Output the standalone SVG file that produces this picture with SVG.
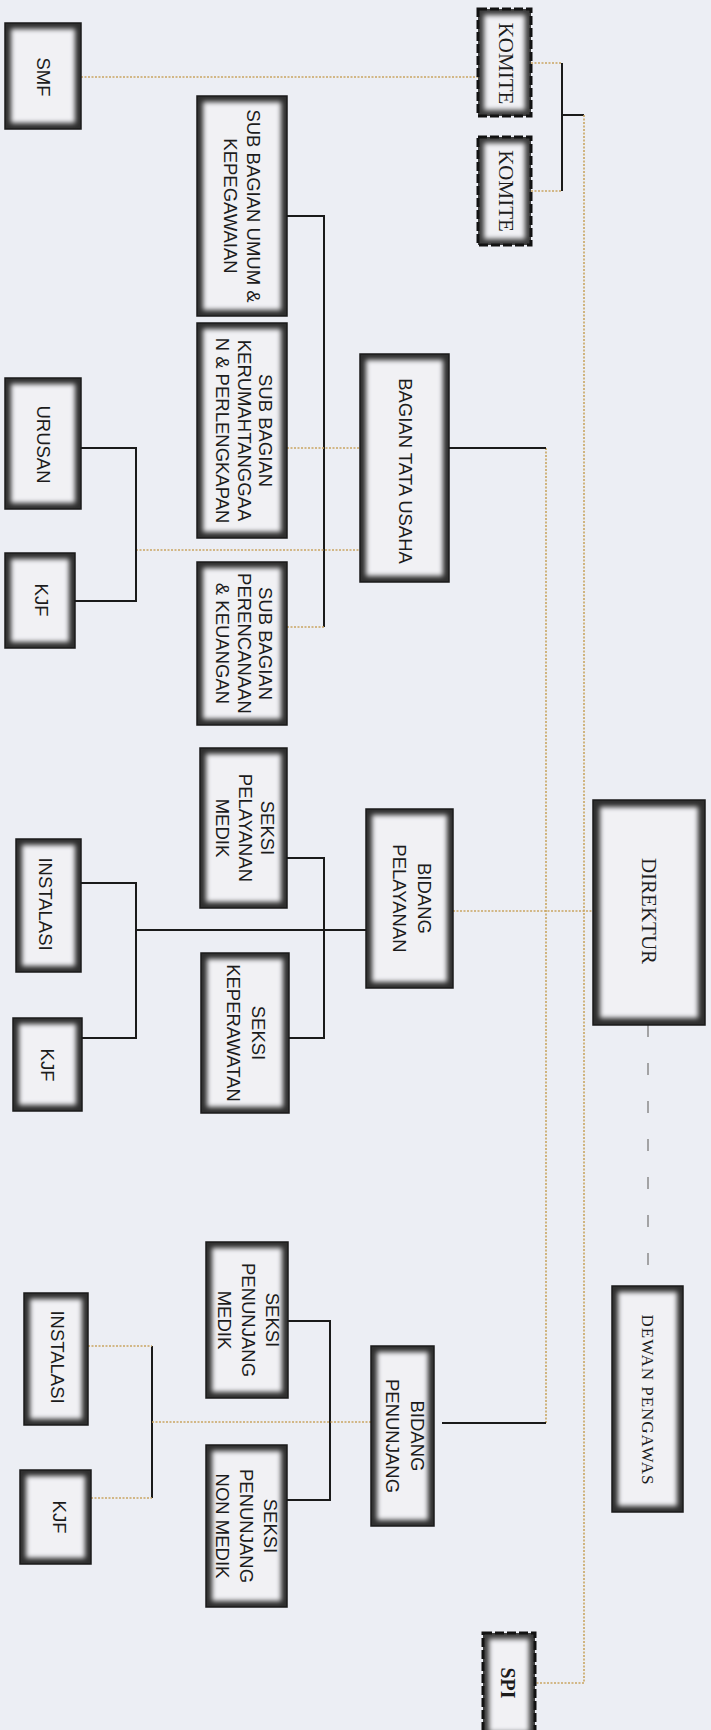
<svg xmlns="http://www.w3.org/2000/svg" width="711" height="1730" viewBox="0 0 711 1730">
<defs>
<filter id="soft" x="-20%" y="-20%" width="140%" height="140%">
<feGaussianBlur stdDeviation="2.9"/>
</filter>
<style>
.o{fill:#2e2e2e;stroke:#1a1a1a;stroke-width:1.5}
.od{fill:#3a3a3a;stroke:#111;stroke-width:3;stroke-dasharray:9 3}
.i{fill:#f1f1f4;filter:url(#soft)}
.s{font-family:"Liberation Sans",Arial,sans-serif;font-size:18.5px;fill:#1c1c1c;text-anchor:middle}
.r{font-family:"Liberation Serif","Times New Roman",serif;font-size:21px;fill:#1c1c1c;text-anchor:middle}
.k{stroke:#1a1a1a;stroke-width:2;fill:none}
.t{stroke:#c9a562;stroke-width:1.6;stroke-dasharray:2 1.5;fill:none}
.g{stroke:#8a8a8a;stroke-width:1.5;stroke-dasharray:12 26;fill:none}
</style>
</defs>
<rect width="711" height="1730" fill="#eceef4"/>

<g id="connectors">
<path class="t" d="M81,77H478"/>
<path class="t" d="M531,63H562M531,191H562"/>
<path class="k" d="M562,63V191M562,115H584"/>
<path class="t" d="M584,115V1683H535"/>
<path class="t" d="M546,448V1423"/>
<path class="k" d="M449,448H546"/>
<path class="k" d="M287,216H324V627"/>
<path class="t" d="M287,627H324"/>
<path class="t" d="M287,448H360"/>
<path class="t" d="M136,550H360"/>
<path class="k" d="M81,448H136V601H75"/>
<path class="t" d="M453,911H594"/>
<path class="k" d="M287,858H324V1038H289"/>
<path class="k" d="M136,930H366"/>
<path class="k" d="M81,883H136V1038H82"/>
<path class="k" d="M442,1423H546"/>
<path class="k" d="M288,1321H330V1500H287"/>
<path class="k" d="M152,1346V1498"/>
<path class="t" d="M88,1346H152M91,1498H152M152,1422H371"/>
<path class="g" d="M648,1025V1286"/>
</g>

<g id="smf" transform="translate(5,23)"><rect class="o" width="76" height="106"/><rect class="i" x="6" y="6" width="64" height="94"/><text class="s" transform="translate(38,54) rotate(90)" y="6.5">SMF</text></g>
<g id="komite1" transform="translate(478,9)"><rect class="od" width="53" height="107"/><rect class="i" x="6" y="6" width="41" height="95"/><text class="r" transform="translate(28,54.5) rotate(90)" y="7">KOMITE</text></g>
<g id="komite2" transform="translate(478,137)"><rect class="od" width="53" height="108"/><rect class="i" x="6" y="6" width="41" height="96"/><text class="r" transform="translate(28,54) rotate(90)" y="7">KOMITE</text></g>

<g id="sub-umum" transform="translate(197,96)"><rect class="o" width="90" height="220"/><rect class="i" x="6" y="6" width="78" height="208"/><text class="s" transform="translate(45,110) rotate(90)"><tspan x="0" y="-5">SUB BAGIAN UMUM &amp;</tspan><tspan x="0" y="18">KEPEGAWAIAN</tspan></text></g>
<g id="sub-rt" transform="translate(197,323)"><rect class="o" width="90" height="215"/><rect class="i" x="6" y="6" width="78" height="203"/><text class="s" transform="translate(47,107.5) rotate(90)"><tspan x="0" y="-15">SUB BAGIAN</tspan><tspan x="0" y="6.5">KERUMAHTANGGAA</tspan><tspan x="0" y="28">N &amp; PERLENGKAPAN</tspan></text></g>
<g id="sub-keu" transform="translate(197,562)"><rect class="o" width="90" height="163"/><rect class="i" x="6" y="6" width="78" height="151"/><text class="s" transform="translate(47,81.5) rotate(90)"><tspan x="0" y="-15">SUB BAGIAN</tspan><tspan x="0" y="6.5">PERENCANAAN</tspan><tspan x="0" y="28">&amp; KEUANGAN</tspan></text></g>
<g id="bagian-tu" transform="translate(360,354)"><rect class="o" width="89" height="228"/><rect class="i" x="6" y="6" width="77" height="216"/><text class="s" transform="translate(45,117) rotate(90)" y="6.5">BAGIAN  TATA USAHA</text></g>
<g id="urusan" transform="translate(5,378)"><rect class="o" width="76" height="131"/><rect class="i" x="6" y="6" width="64" height="119"/><text class="s" transform="translate(38,66.5) rotate(90)" y="6.5">URUSAN</text></g>
<g id="kjf1" transform="translate(5,553)"><rect class="o" width="70" height="95"/><rect class="i" x="6" y="6" width="58" height="83"/><text class="s" transform="translate(36,47) rotate(90)" y="6.5">KJF</text></g>

<g id="seksi-pm" transform="translate(200,748)"><rect class="o" width="87" height="160"/><rect class="i" x="6" y="6" width="75" height="148"/><text class="s" transform="translate(45,80) rotate(90)"><tspan x="0" y="-16">SEKSI</tspan><tspan x="0" y="6.5">PELAYANAN</tspan><tspan x="0" y="29">MEDIK</tspan></text></g>
<g id="bidang-pel" transform="translate(366,809)"><rect class="o" width="87" height="179"/><rect class="i" x="6" y="6" width="75" height="167"/><text class="s" transform="translate(45.5,89.5) rotate(90)"><tspan x="0" y="-6">BIDANG</tspan><tspan x="0" y="19">PELAYANAN</tspan></text></g>
<g id="seksi-kep" transform="translate(201,953)"><rect class="o" width="88" height="160"/><rect class="i" x="6" y="6" width="76" height="148"/><text class="s" transform="translate(44.5,80) rotate(90)"><tspan x="0" y="-6">SEKSI</tspan><tspan x="0" y="19">KEPERAWATAN</tspan></text></g>
<g id="instalasi1" transform="translate(16,839)"><rect class="o" width="65" height="133"/><rect class="i" x="6" y="6" width="53" height="121"/><text class="s" transform="translate(29,65) rotate(90)" y="6.5">INSTALASI</text></g>
<g id="kjf2" transform="translate(13,1018)"><rect class="o" width="69" height="93"/><rect class="i" x="6" y="6" width="57" height="81"/><text class="s" transform="translate(34,47) rotate(90)" y="6.5">KJF</text></g>
<g id="direktur" transform="translate(593,800)"><rect class="o" width="112" height="225"/><rect class="i" x="7" y="7" width="98" height="211"/><text class="r" transform="translate(55.5,111) rotate(90)" y="7">DIREKTUR</text></g>

<g id="seksi-penm" transform="translate(206,1242)"><rect class="o" width="82" height="156"/><rect class="i" x="6" y="6" width="70" height="144"/><text class="s" transform="translate(42,78) rotate(90)"><tspan x="0" y="-17.5">SEKSI</tspan><tspan x="0" y="6.5">PENUNJANG</tspan><tspan x="0" y="30.5">MEDIK</tspan></text></g>
<g id="seksi-pennm" transform="translate(206,1445)"><rect class="o" width="81" height="162"/><rect class="i" x="6" y="6" width="69" height="150"/><text class="s" transform="translate(40,81) rotate(90)"><tspan x="0" y="-17.5">SEKSI</tspan><tspan x="0" y="6.5">PENUNJANG</tspan><tspan x="0" y="30.5">NON MEDIK</tspan></text></g>
<g id="bidang-pen" transform="translate(371,1346)"><rect class="o" width="63" height="180"/><rect class="i" x="6" y="6" width="51" height="168"/><text class="s" transform="translate(33.5,90) rotate(90)"><tspan x="0" y="-6">BIDANG</tspan><tspan x="0" y="19">PENUNJANG</tspan></text></g>
<g id="instalasi2" transform="translate(24,1293)"><rect class="o" width="64" height="132"/><rect class="i" x="6" y="6" width="52" height="120"/><text class="s" transform="translate(33,64) rotate(90)" y="6.5">INSTALASI</text></g>
<g id="kjf3" transform="translate(20,1470)"><rect class="o" width="71" height="94"/><rect class="i" x="6" y="6" width="59" height="82"/><text class="s" transform="translate(39,47) rotate(90)" y="6.5">KJF</text></g>
<g id="dewan" transform="translate(612,1286)"><rect class="o" width="71" height="226"/><rect class="i" x="6" y="6" width="59" height="214"/><text class="r" transform="translate(36,114) rotate(90)" y="6" style="font-size:17px;letter-spacing:1px">DEWAN PENGAWAS</text></g>
<g id="spi" transform="translate(483,1633)"><rect class="od" width="52" height="105"/><rect class="i" x="6" y="6" width="40" height="93"/><text class="r" transform="translate(25,50) rotate(90)" y="7" style="font-weight:bold;font-size:20px">SPI</text></g>
</svg>
